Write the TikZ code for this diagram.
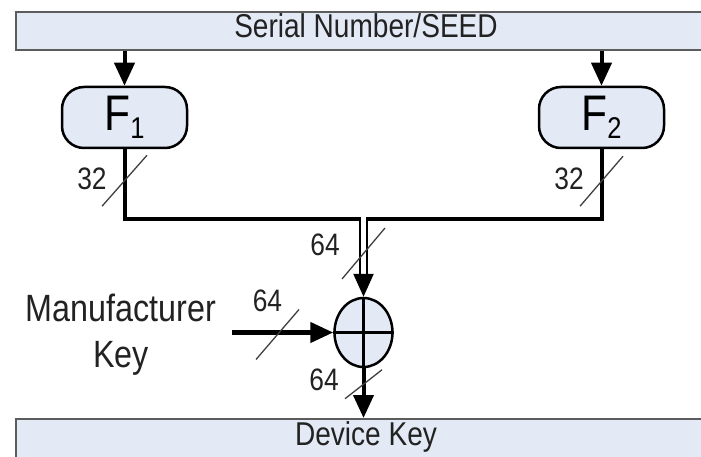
\documentclass[tikz,border=0pt]{standalone}
\usepackage{fontspec}
\setmainfont{Liberation Sans}[FakeStretch=0.85]
\usetikzlibrary{arrows.meta, positioning, shapes.geometric}
\definecolor{boxfill}{HTML}{E3EAF6}
\definecolor{bargray}{HTML}{5C5C5C}
\definecolor{inkgray}{HTML}{222222}
\tikzset{
  bar/.style={draw=bargray, line width=2pt, fill=boxfill, minimum width=700pt,
    inner sep=0pt, text height=26pt, text depth=12pt, text=inkgray,
    font=\fontsize{33}{33}\selectfont},
  fbox/.style={draw=black, line width=2.5pt, fill=boxfill, rounded corners=22pt,
    minimum width=125pt, minimum height=61pt, inner sep=0pt},
  xorop/.style={ellipse, draw=black, line width=2.5pt, fill=boxfill,
    minimum width=58pt, minimum height=69pt, inner sep=0pt},
  wire/.style={line width=4pt},
  feed/.style={line width=4pt, -{Triangle[length=23pt,width=20pt]}},
  slash/.style={line width=1.3pt, draw=black!75},
  num/.style={font=\fontsize{31}{31}\selectfont, text=inkgray, inner sep=0pt},
}
\newcommand{\fname}[1]{{\fontsize{50}{50}\selectfont F}\raisebox{-8pt}{\fontsize{30}{30}\selectfont #1}}
\begin{document}
\begin{tikzpicture}[x=1pt, y=-1pt]
    \useasboundingbox (0,0) rectangle (701,457);
    \clip (0,0) rectangle (701,457);

    % bars
    \node[bar, anchor=north west] (seed) at (15,11) {Serial Number/SEED};
    \node[bar, anchor=north west, text depth=20pt] (dkey) at (15,418) {Device Key};

    % functions and xor
    \node[fbox] (f1) at (124.5,117.5) {\fname{1}};
    \node[fbox] (f2) at (601.5,117.5) {\fname{2}};
    \node[xorop] (xor) at (363.5,332.5) {};
    \draw[line width=2.5pt] (xor.north) -- (xor.south) (xor.west) -- (xor.east);

    \node[align=center, text=inkgray, font=\fontsize{38}{46}\selectfont] (mkey) at (121,335) {Manufacturer\\Key};

    % connectors
    \draw[feed] (seed.south -| f1.north) -- (f1.north);
    \draw[feed] (seed.south -| f2.north) -- (f2.north);
    \coordinate (join) at (363.5,219);
    \draw[wire] (f1.south) |- ([xshift=-3.5pt]join);
    \draw[wire] (f2.south) |- ([xshift=3.5pt]join);
    \draw[double=white, double distance=4.5pt, line width=2.5pt,
      -{Triangle[length=23pt,width=20pt]}] ([yshift=2pt]join) -- (xor.north);
    \coordinate (mfeed) at (232,332.5);
    \draw[feed, line width=4.5pt] (mfeed) -- (xor);
    \draw[feed] (xor.south) -- (dkey.north -| xor.south);

    % bus widths
    \path (f1.south) ++(0,31.5) coordinate (s1);
    \path (f2.south) ++(0,32) coordinate (s2);
    \path (join) ++(0,34.5) coordinate (s3);
    \path (mfeed) ++(47,0) coordinate (s4);
    \path (xor.south) ++(0,16) coordinate (s5);
    \draw[slash] (s1) +(-22.5,25.5) -- +(22.5,-25.5);
    \draw[slash] (s2) +(-21.5,25) -- +(21.5,-25);
    \draw[slash] (s3) +(-21.5,25.5) -- +(21.5,-25.5);
    \draw[slash] (s4) +(-23,27) -- +(20,-23);
    \draw[slash] (s5) +(-18.5,14.5) -- +(18.5,-14.5);
    \node[num] (w1) at (92,178.5) {32};
    \node[num] (w2) at (569,178.5) {32};
    \node[num] (w3) at (325,245) {64};
    \node[num] (w4) at (267.5,301) {64};
    \node[num] (w5) at (324,380) {64};
\end{tikzpicture}
\end{document}
